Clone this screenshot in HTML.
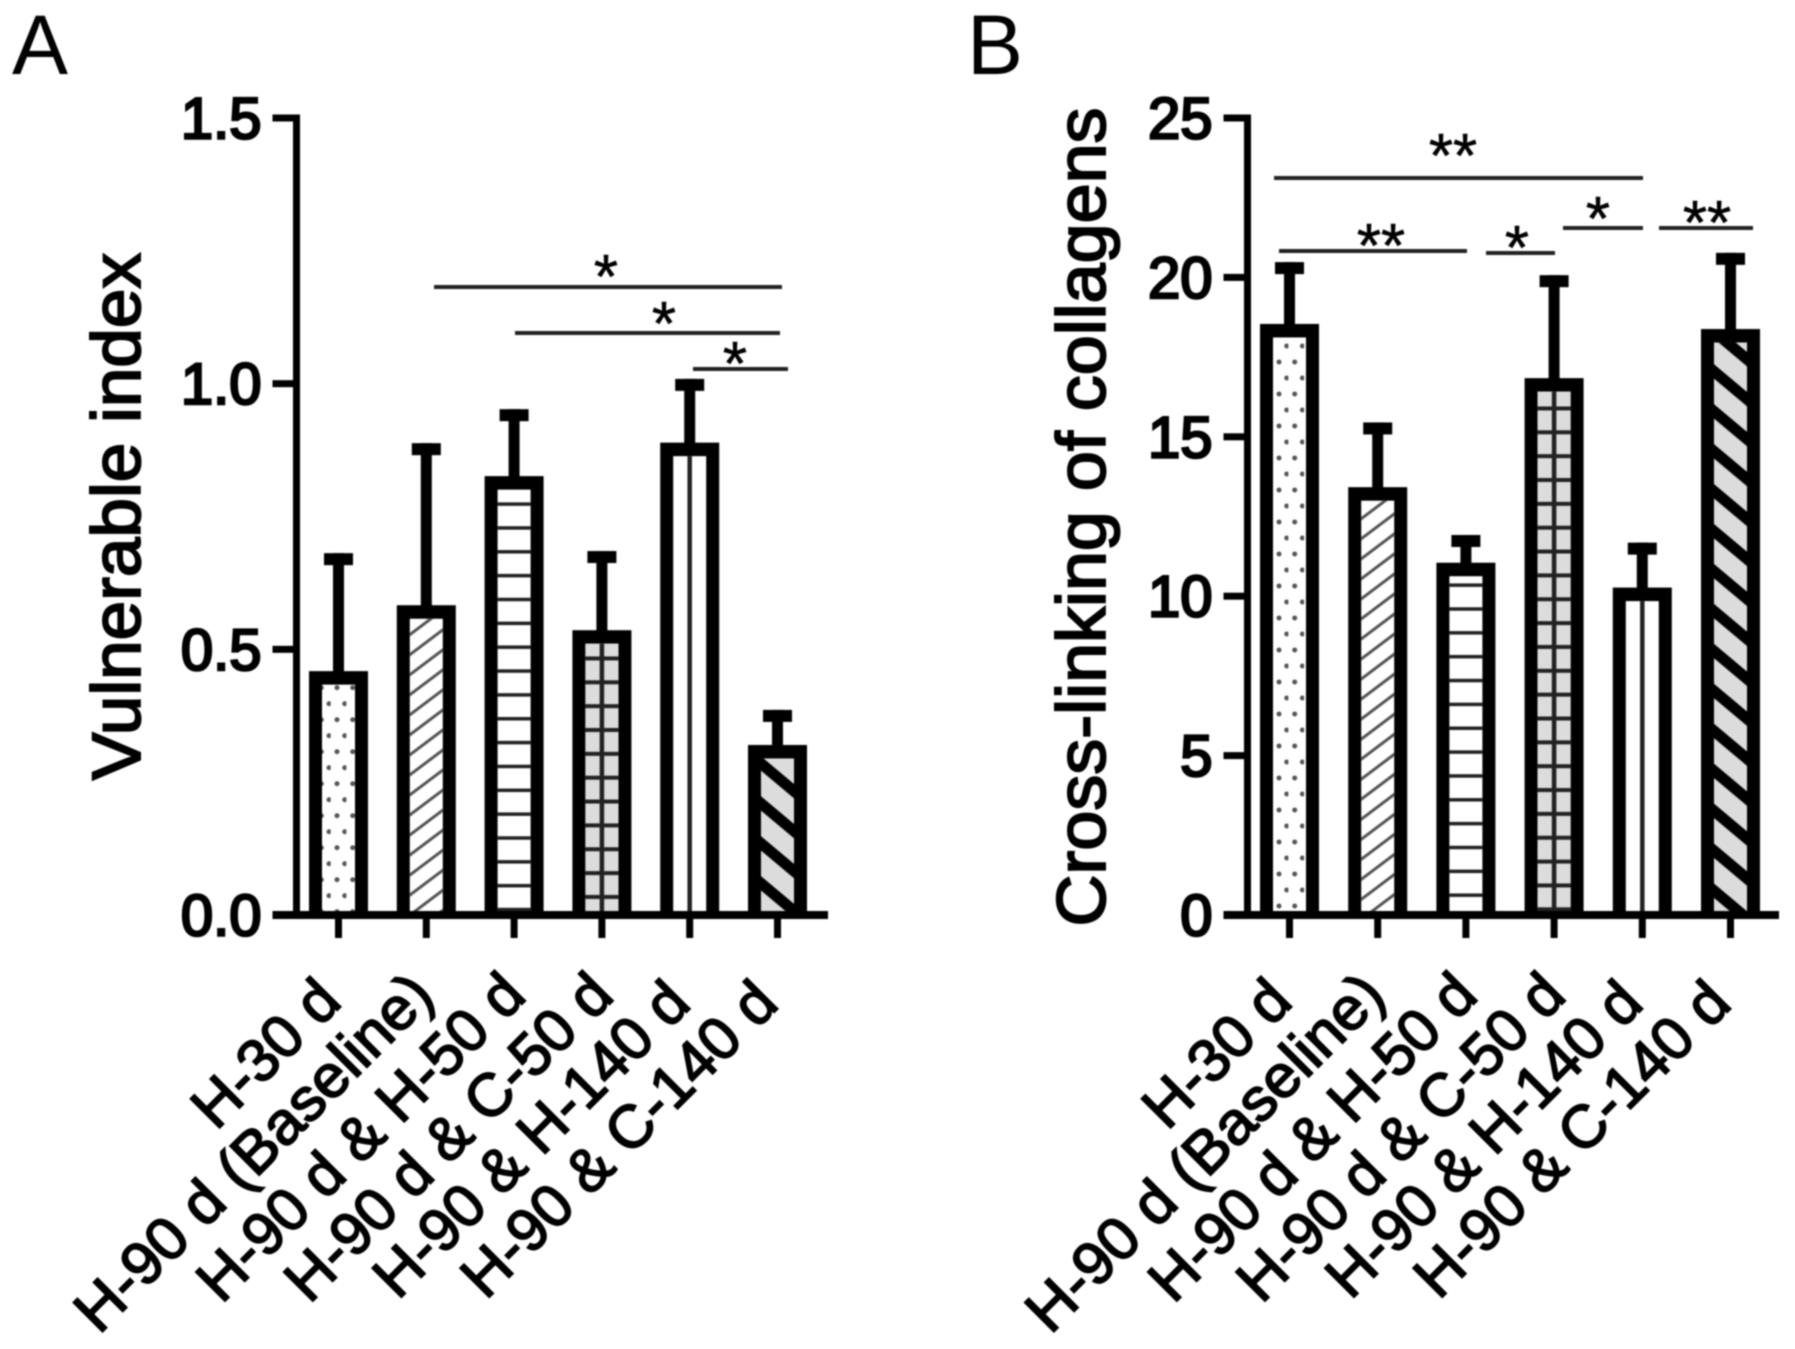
<!DOCTYPE html>
<html>
<head>
<meta charset="utf-8">
<title>Vulnerable index and collagen cross-linking</title>
<style>
html,body{margin:0;padding:0;background:#fff;}
svg{display:block;filter:blur(0.8px);}
text{font-family:"Liberation Sans",Arial,sans-serif;fill:#000;}
.panel-letter{font-size:84px;}
.axis-title{font-size:69px;stroke:#000;stroke-width:2px;}
.y-label{font-size:58px;stroke:#000;stroke-width:2.6px;text-anchor:end;}
.x-label{font-size:60px;stroke:#000;stroke-width:1.8px;text-anchor:end;}
.star{font-size:62px;text-anchor:middle;stroke:#000;stroke-width:0.6px;}
</style>
</head>
<body>
<svg id="figure" width="1795" height="1349" viewBox="0 0 1795 1349" xmlns="http://www.w3.org/2000/svg">
  <defs>
    <pattern id="dotsA" patternUnits="userSpaceOnUse" x="1" y="7.7" width="15.7" height="32">
      <circle cx="6.3" cy="8" r="2.5" fill="#555"/>
      <circle cx="14" cy="24" r="2.5" fill="#555"/>
    </pattern>
    <pattern id="dotsB" patternUnits="userSpaceOnUse" x="1" y="2" width="15.7" height="32">
      <circle cx="6.3" cy="8" r="2.5" fill="#555"/>
      <circle cx="14" cy="24" r="2.5" fill="#555"/>
    </pattern>
    <pattern id="slash" patternUnits="userSpaceOnUse" width="10" height="16" patternTransform="rotate(-37)">
      <rect x="0" y="0" width="10" height="3" fill="#555"/>
    </pattern>
    <pattern id="rowsA" patternUnits="userSpaceOnUse" x="0" y="1.5" width="10" height="23.85">
      <rect x="0" y="0" width="10" height="3.5" fill="#222"/>
    </pattern>
    <pattern id="rowsB" patternUnits="userSpaceOnUse" x="0" y="11" width="10" height="23.85">
      <rect x="0" y="0" width="10" height="3.5" fill="#222"/>
    </pattern>
    <pattern id="gridA" patternUnits="userSpaceOnUse" x="0" y="12.5" width="10" height="23.85">
      <rect x="0" y="0" width="10" height="23.85" fill="#dcdcdc"/>
      <rect x="0" y="0" width="10" height="4" fill="#222"/>
    </pattern>
    <pattern id="gridB" patternUnits="userSpaceOnUse" x="0" y="1" width="10" height="23.85">
      <rect x="0" y="0" width="10" height="23.85" fill="#dcdcdc"/>
      <rect x="0" y="0" width="10" height="4" fill="#222"/>
    </pattern>
    <pattern id="stripeA" patternUnits="userSpaceOnUse" x="0" y="-1.6" width="10" height="30.6" patternTransform="rotate(40)">
      <rect x="0" y="0" width="10" height="30.6" fill="#dcdcdc"/>
      <rect x="0" y="0" width="10" height="11" fill="#000"/>
    </pattern>
    <pattern id="stripeB" patternUnits="userSpaceOnUse" x="0" y="3.5" width="10" height="30.6" patternTransform="rotate(40)">
      <rect x="0" y="0" width="10" height="30.6" fill="#dcdcdc"/>
      <rect x="0" y="0" width="10" height="11" fill="#000"/>
    </pattern>
  </defs>

  <text class="panel-letter" x="12" y="74">A</text>
  <text class="panel-letter" x="967" y="74">B</text>

  <text class="axis-title" text-anchor="middle" textLength="527" lengthAdjust="spacingAndGlyphs" transform="translate(140,516.5) rotate(-90)">Vulnerable index</text>
  <text class="axis-title" text-anchor="middle" textLength="819" lengthAdjust="spacingAndGlyphs" transform="translate(1105,517) rotate(-90)">Cross-linking of collagens</text>

  <g id="panelA"></g>
  <g id="panelB"></g>

  <g stroke="#222" stroke-width="4">
    <line x1="434" y1="287" x2="782" y2="287"/>
    <line x1="515" y1="333" x2="780" y2="333"/>
    <line x1="693" y1="369" x2="788" y2="369"/>
  </g>
  <text class="star" x="606" y="298">*</text>
  <text class="star" x="664" y="345">*</text>
  <text class="star" x="735" y="385">*</text>

  <g stroke="#222" stroke-width="4">
    <line x1="1274" y1="178" x2="1643" y2="178"/>
    <line x1="1279" y1="251" x2="1467" y2="251"/>
    <line x1="1486" y1="253" x2="1555" y2="253"/>
    <line x1="1563" y1="228" x2="1643" y2="228"/>
    <line x1="1659" y1="228" x2="1753" y2="228"/>
  </g>
  <text class="star" x="1453" y="177">**</text>
  <text class="star" x="1381" y="267">**</text>
  <text class="star" x="1517" y="269">*</text>
  <text class="star" x="1598" y="240">*</text>
  <text class="star" x="1707" y="244">**</text>
</svg>
<script>
const categoriesA = ["H-30 d", "H-90 d (Baseline)", "H-90 d & H-50 d", "H-90 d & C-50 d", "H-90 & H-140 d", "H-90 & C-140 d"];
const categoriesB = ["H-30 d", "H-90 d (Baseline)", "H-90 d & H-50 d", "H-90 d & C-50 d", "H-90 & H-140 d", "H-90 & C-140 d"];
const meansA = [0.459, 0.583, 0.826, 0.536, 0.889, 0.32];
const errorsA = [0.222, 0.305, 0.126, 0.149, 0.12, 0.066];
const meansB = [18.54, 13.42, 11.05, 16.84, 10.27, 18.38];
const errorsB = [1.94, 2.03, 0.87, 3.23, 1.41, 2.39];
const ticksA = [0, 0.5, 1, 1.5];
const ticksB = [0, 5, 10, 15, 20, 25];
const tickTextA = ["0.0", "0.5", "1.0", "1.5"];
const tickTextB = ["0", "5", "10", "15", "20", "25"];

const SVGNS = "http://www.w3.org/2000/svg";
const BASE_Y = 915;
const TOP_Y = 118;

function el(parent, tag, attrs) {
  const node = document.createElementNS(SVGNS, tag);
  for (const key in attrs) node.setAttribute(key, attrs[key]);
  parent.appendChild(node);
  return node;
}

function labelNudge(i) {
  if (i === 0) return { dx: 5, y: 1004 };
  if (i === 1) return { dx: 10, y: 998 };
  if (i === 2 || i === 3) return { dx: 14, y: 998 };
  return { dx: 3, y: 1006 };
}

function drawPanel(group, opts) {
  const yScale = v => BASE_Y - (v / opts.max) * (BASE_Y - TOP_Y);
  const xScale = i => opts.x0 + i * opts.step;

  opts.means.forEach((mean, i) => {
    const cx = xScale(i);
    const top = yScale(mean);
    const capTop = yScale(mean + opts.errors[i]);

    const stem = el(group, "rect", { x: cx - 5.5, y: capTop, width: 11, height: top - capTop + 2, fill: "#000" });
    
    

    const cap = el(group, "rect", { x: cx - 14.5, y: capTop, width: 29, height: 12, fill: "#000" });
    
    

    const outer = el(group, "rect", { x: cx - 29.5, y: top, width: 59, height: BASE_Y - top, fill: "#000" });
    
    

    const inner = { x: cx - 16.5, y: top + 13.5, width: 33, height: BASE_Y - top - 13.5 };
    const paper = el(group, "rect", Object.assign({ fill: "#fff" }, inner));
    
    

    const fills = opts.fills;
    if (fills[i]) {
      const hatch = el(group, "rect", Object.assign({ fill: "url(#" + fills[i] + ")" }, inner));
      
      
    }
    if (i === 3 || i === 4) {
      const mid = el(group, "rect", { x: cx - 2.25, y: inner.y, width: 4.5, height: inner.height, fill: "#222" });
      
      
    }

    const tick = el(group, "rect", { x: cx - 3.5, y: BASE_Y, width: 7, height: 23, fill: "#000" });
    
    

    const nudge = labelNudge(i);
    const label = el(group, "text", { class: "x-label", transform: "translate(" + (cx + nudge.dx) + "," + nudge.y + ") rotate(-45)" });
    label.textContent = opts.categories[i];
    if (i === 1) {
      label.setAttribute("textLength", "477");
      label.setAttribute("lengthAdjust", "spacingAndGlyphs");
    }
    
    
  });

  const yAxis = el(group, "rect", { x: opts.axisX - 3.5, y: TOP_Y - 3.5, width: 7, height: BASE_Y - TOP_Y + 7, fill: "#000" });
  
  

  const xAxis = el(group, "rect", { x: opts.axisX - 24, y: BASE_Y - 4, width: opts.axisEnd - opts.axisX + 24, height: 8, fill: "#000" });
  
  

  opts.ticks.forEach((value, i) => {
    const y = yScale(value);
    const tick = el(group, "rect", { x: opts.axisX - 24, y: y - 3.5, width: 24, height: 7, fill: "#000" });
    
    

    const label = el(group, "text", { class: "y-label", x: opts.axisX - 35, y: y + 20.5 });
    label.textContent = opts.tickText[i];
    
    
  });
}

drawPanel(document.getElementById("panelA"), {
  categories: categoriesA, means: meansA, errors: errorsA, ticks: ticksA, tickText: tickTextA,
  max: 1.5, x0: 338.5, step: 87.8, axisX: 296.5, axisEnd: 828,
  fills: ["dotsA", "slash", "rowsA", "gridA", null, "stripeA"]
});
drawPanel(document.getElementById("panelB"), {
  categories: categoriesB, means: meansB, errors: errorsB, ticks: ticksB, tickText: tickTextB,
  max: 25, x0: 1289.5, step: 88.2, axisX: 1247.5, axisEnd: 1779,
  fills: ["dotsB", "slash", "rowsB", "gridB", null, "stripeB"]
});
</script>
</body>
</html>
